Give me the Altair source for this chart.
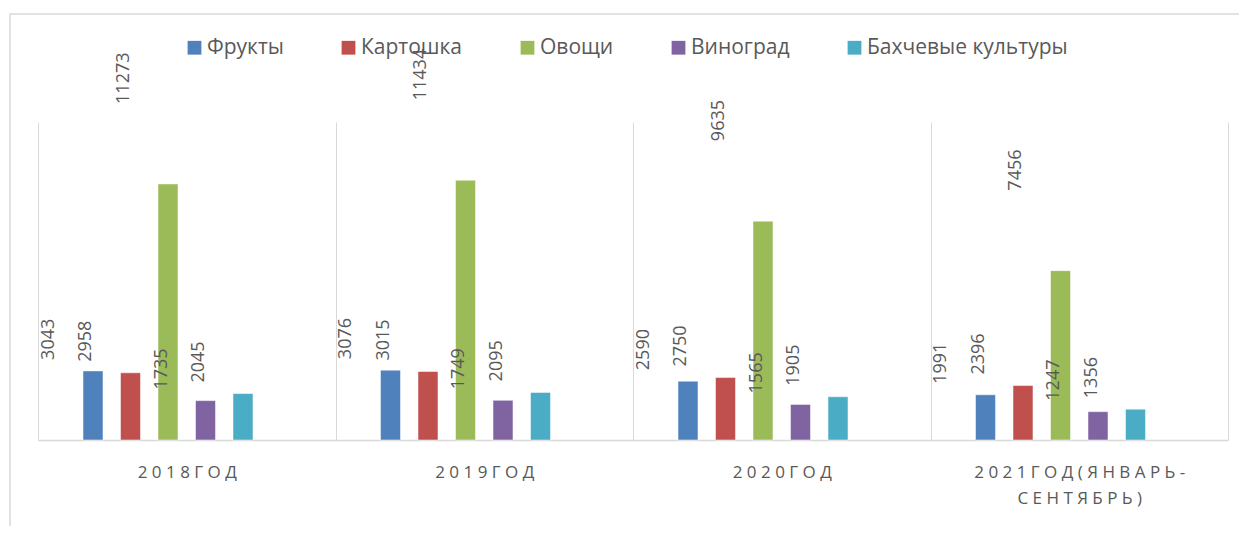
import altair as alt
import pandas as pd

categories = ["2018 ГОД", "2019 ГОД", "2020 ГОД", "2021 ГОД (ЯНВАРЬ-|СЕНТЯБРЬ)"]
series = ["Фрукты", "Картошка", "Овощи", "Виноград", "Бахчевые культуры"]
colors = ["#4F81BD", "#C0504D", "#9BBB59", "#8064A2", "#4BACC6"]

fruits = [3043, 3076, 2590, 1991]
potato = [2958, 3015, 2750, 2396]
vegetables = [11273, 11434, 9635, 7456]
grapes = [1735, 1749, 1565, 1247]
melons = [2045, 2095, 1905, 1356]

values = [fruits, potato, vegetables, grapes, melons]


def spaced(s):
    return "|".join(" ".join(part.replace(" ", "")) for part in s.split("|"))


labels = [spaced(c) for c in categories]

rows = []
for s, vals in zip(series, values):
    for lab, v in zip(labels, vals):
        rows.append({"group": lab, "series": s, "value": v})
df = pd.DataFrame(rows)

offset_domain = ["_a"] + series + ["_b", "_c"]
font = "Open Sans"
gray = "#595959"

x = alt.X("group:N", sort=labels, title=None,
          scale=alt.Scale(paddingInner=0, paddingOuter=0),
          axis=alt.Axis(labelExpr="split(datum.label, '|')", labelAngle=0,
                        labelFont=font, labelFontSize=17, labelColor=gray,
                        labelPadding=24, labelLineHeight=26, ticks=False,
                        labelLimit=400,
                        grid=True, gridColor="#D9D9D9", tickBand="extent",
                        domainColor="#D9D9D9", domainWidth=1.5))
xo = alt.XOffset("series:N", sort=offset_domain,
                 scale=alt.Scale(domain=offset_domain, paddingInner=0.467, paddingOuter=0.2))
y = alt.Y("value:Q", scale=alt.Scale(domain=[0, 14000]), axis=None)

base = alt.Chart(df)

bars = base.mark_bar(stroke="white", strokeWidth=0.5).encode(
    x=x, xOffset=xo, y=y,
    color=alt.Color("series:N", sort=series,
                    scale=alt.Scale(domain=series, range=colors),
                    legend=alt.Legend(title=None, orient="none", direction="horizontal",
                                      legendX=146, legendY=-85,
                                      symbolType="square", symbolSize=190,
                                      symbolStrokeWidth=0, labelLimit=400,
                                      labelFont=font, labelFontSize=21, labelColor=gray,
                                      labelOffset=2, columnPadding=54)),
)

small = base.transform_filter(alt.datum.series != "Овощи").mark_text(
    angle=270, align="left", baseline="middle", dx=11, dy=-44,
    font=font, fontSize=18, color=gray
).encode(x=x, xOffset=xo, y=y, text="value:Q")

big = base.transform_filter(alt.datum.series == "Овощи").mark_text(
    angle=270, align="left", baseline="middle", dx=80, dy=-44,
    font=font, fontSize=18, color=gray
).encode(x=x, xOffset=xo, y=y, text="value:Q")

border = alt.Chart(pd.DataFrame({"a": [0]})).mark_rect(
    fill=None, stroke="#D9D9D9", strokeWidth=1.5, clip=False
).encode(x=alt.value(-28), x2=alt.value(1202), y=alt.value(-108), y2=alt.value(430))

chart = alt.layer(border, bars, small, big).properties(
    width=1190, height=318,
    autosize=alt.AutoSizeParams(type="none"),
    padding={"left": 30, "top": 114, "right": 11, "bottom": 86},
).configure(background="white").configure_view(stroke=None)

chart.save("out.html", embed_options={"renderer": "svg", "actions": False})
